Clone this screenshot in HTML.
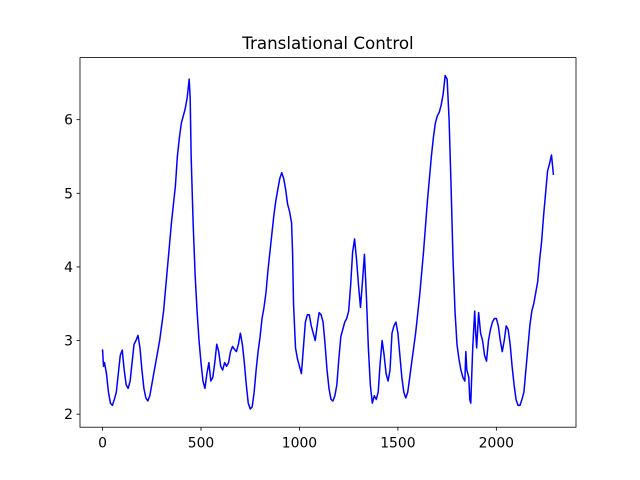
<!DOCTYPE html>
<html><head><meta charset="utf-8"><style>
body{margin:0;background:#fff}
svg{display:block;font-family:"DejaVu Sans","Liberation Sans",sans-serif}
</style></head><body>
<svg id="chart" width="640" height="480">
<rect x="0" y="0" width="640" height="480" fill="#fff"/>
<text x="328" y="49" text-anchor="middle" font-size="16.7" fill="#000">Translational Control</text>
<g id="xt"></g>
<g id="yt"></g>
<path id="line" fill="none" stroke="#0000ff" stroke-width="1.5" stroke-linejoin="round"/>
<rect x="80" y="57.6" width="496" height="369.6" fill="none" stroke="#000" stroke-width="0.8"/>
</svg>
<script>
const xs=[0,5,10,20,30,40,50,60,70,80,90,100,110,120,130,140,150,160,170,180,190,200,210,220,230,240,250,260,270,280,290,300,310,320,330,340,350,360,370,380,390,400,410,420,430,440,445,450,460,470,480,490,500,510,520,530,540,550,560,570,580,590,600,610,620,630,640,650,660,670,680,690,700,710,720,730,740,750,760,770,780,790,800,810,820,830,840,850,860,870,880,890,900,910,920,930,940,950,960,965,970,980,990,1000,1010,1020,1030,1040,1050,1060,1070,1080,1090,1100,1110,1120,1130,1140,1150,1160,1170,1180,1190,1200,1210,1220,1230,1240,1250,1260,1270,1280,1290,1300,1310,1320,1330,1340,1350,1360,1370,1380,1390,1400,1410,1420,1430,1440,1450,1460,1470,1480,1490,1500,1510,1520,1530,1540,1550,1560,1570,1580,1590,1600,1610,1620,1630,1640,1650,1660,1670,1680,1690,1700,1710,1720,1730,1740,1750,1760,1770,1780,1790,1800,1810,1820,1830,1840,1845,1850,1860,1865,1870,1880,1890,1895,1900,1910,1920,1930,1940,1950,1960,1970,1980,1990,2000,2010,2020,2030,2040,2050,2060,2070,2080,2090,2100,2110,2120,2130,2140,2150,2160,2170,2180,2190,2200,2210,2220,2230,2240,2250,2260,2270,2280,2290];
const ys=[2.88,2.65,2.7,2.55,2.3,2.15,2.12,2.2,2.3,2.55,2.8,2.87,2.6,2.4,2.35,2.45,2.7,2.95,3.0,3.07,2.9,2.6,2.35,2.22,2.18,2.25,2.4,2.55,2.7,2.85,3.0,3.2,3.4,3.7,4.0,4.3,4.6,4.85,5.1,5.5,5.75,5.95,6.05,6.15,6.3,6.55,6.3,5.5,4.6,3.9,3.4,3.0,2.7,2.45,2.35,2.55,2.7,2.45,2.5,2.7,2.95,2.85,2.65,2.6,2.7,2.65,2.7,2.85,2.92,2.88,2.85,2.95,3.1,2.95,2.7,2.4,2.15,2.07,2.1,2.3,2.6,2.85,3.05,3.3,3.45,3.65,3.95,4.2,4.45,4.7,4.9,5.05,5.2,5.28,5.2,5.05,4.85,4.75,4.6,4.2,3.5,2.9,2.75,2.65,2.55,2.9,3.25,3.35,3.35,3.2,3.1,3.0,3.2,3.38,3.35,3.25,2.95,2.6,2.35,2.2,2.18,2.25,2.4,2.75,3.05,3.15,3.25,3.3,3.4,3.75,4.2,4.38,4.1,3.75,3.45,3.8,4.17,3.6,2.9,2.4,2.15,2.25,2.2,2.3,2.7,3.0,2.8,2.55,2.45,2.6,3.1,3.2,3.25,3.1,2.8,2.5,2.3,2.22,2.3,2.5,2.7,2.9,3.1,3.35,3.6,3.9,4.2,4.55,4.9,5.2,5.5,5.75,5.95,6.05,6.1,6.2,6.35,6.6,6.55,6.0,5.1,4.1,3.4,2.95,2.75,2.6,2.5,2.45,2.85,2.6,2.5,2.2,2.15,2.9,3.4,3.1,2.9,3.38,3.1,3.0,2.8,2.72,3.0,3.15,3.25,3.3,3.3,3.2,3.0,2.85,3.0,3.2,3.15,2.95,2.65,2.4,2.2,2.12,2.12,2.2,2.3,2.6,2.9,3.2,3.4,3.5,3.65,3.8,4.1,4.35,4.7,5.0,5.3,5.4,5.52,5.25];
const xTicks=[0,500,1000,1500,2000];
const yTicks=[2,3,4,5,6];
const NS="http://www.w3.org/2000/svg";
const xMin=-114.5,xMax=2404.5,yMin=1.823,yMax=6.843;
const L=80,R=576,T=57.6,B=427.2;
function sx(v){return L+(v-xMin)/(xMax-xMin)*(R-L);}
function sy(v){return B-(v-yMin)/(yMax-yMin)*(B-T);}
function mk(tag,a,p){const e=document.createElementNS(NS,tag);for(const k in a)e.setAttribute(k,a[k]);p.appendChild(e);return e;}
const xg=document.getElementById('xt'),yg=document.getElementById('yt');
xTicks.forEach(v=>{
  const l=mk('line',{x1:sx(v),x2:sx(v),y1:B,y2:B+3.5,stroke:'#000','stroke-width':0.8},xg);
  
  
  const t=mk('text',{x:sx(v),y:B+20.5,'text-anchor':'middle','font-size':13.9},xg);
  t.textContent=v;
  
  
});
yTicks.forEach(v=>{
  const l=mk('line',{x1:L-3.5,x2:L,y1:sy(v),y2:sy(v),stroke:'#000','stroke-width':0.8},yg);
  
  
  const t=mk('text',{x:L-7,y:sy(v)+5,'text-anchor':'end','font-size':13.9},yg);
  t.textContent=v;
  
  
});
document.getElementById('line').setAttribute('d',xs.map((x,i)=>(i?'L':'M')+sx(x).toFixed(2)+','+sy(ys[i]).toFixed(2)).join(''));
</script>
</body></html>
